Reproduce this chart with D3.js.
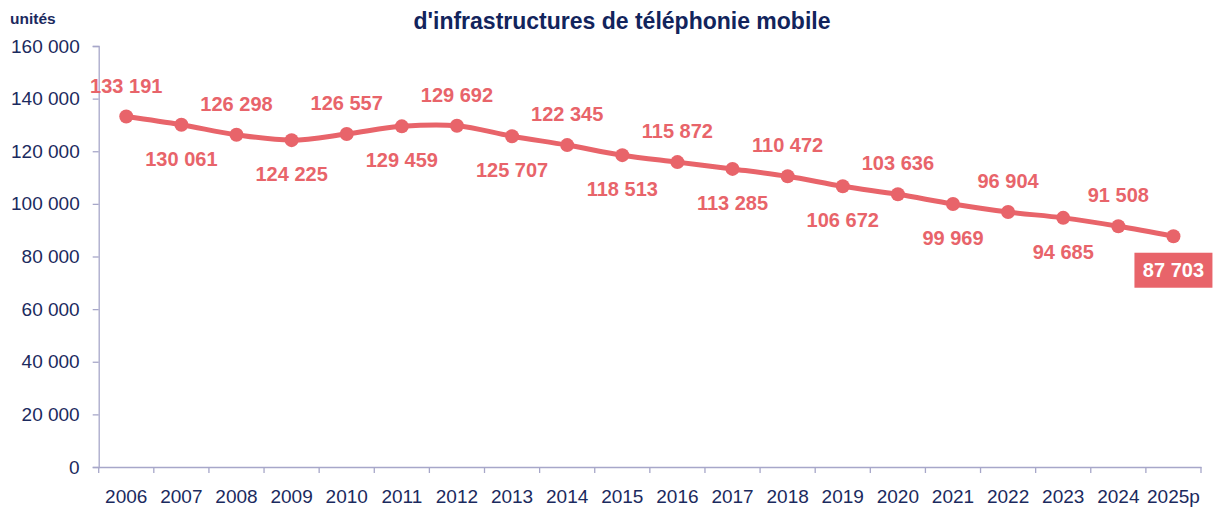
<!DOCTYPE html>
<html><head><meta charset="utf-8">
<script src="https://cdn.jsdelivr.net/npm/d3@7"></script>
<style>body{margin:0;background:#fff}svg{display:block}</style>
</head><body>
<svg id="c" width="1215" height="512"></svg>
<script>
const years = ["2006","2007","2008","2009","2010","2011","2012","2013","2014","2015","2016","2017","2018","2019","2020","2021","2022","2023","2024","2025p"];
const values = [133191,130061,126298,124225,126557,129459,129692,125707,122345,118513,115872,113285,110472,106672,103636,99969,96904,94685,91508,87703];
const labelSide = ["above","below","above","below","above","below","above","below","above","below","above","below","above","below","above","below","above","below","above","box"];
const yTicks = [0,20000,40000,60000,80000,100000,120000,140000,160000];
const titleText = "d'infrastructures de téléphonie mobile";
const unitText = "unités";

const coral = "#E8646A", navy = "#1B2A5E", axisCol = "#A7A7C9";
const svg = d3.select("#c");
const x = d3.scaleBand().domain(years).range([98.7, 1201]);
const y = d3.scaleLinear().domain([0,160000]).range([467,46]);
const fmt = v => d3.format(",")(v).replace(/,/g, " ");
const font = "'Liberation Sans', Arial, sans-serif";

// title & unit
svg.append("text").attr("x",622).attr("y",29).attr("text-anchor","middle")
  .attr("font-family",font).attr("font-weight","bold").attr("font-size",23).attr("fill","#12245C").text(titleText);
svg.append("text").attr("x",10).attr("y",24)
  .attr("font-family",font).attr("font-weight","bold").attr("font-size",15.5).attr("fill",navy).text(unitText);

// y axis
const ya = svg.append("g").attr("transform","translate(98.7,0)")
  .call(d3.axisLeft(y).tickValues(yTicks).tickSize(6).tickPadding(13).tickFormat(fmt));
ya.select(".domain").attr("stroke",axisCol).attr("stroke-width",1.3);
ya.selectAll(".tick line").attr("stroke",axisCol).attr("stroke-width",1.3);
ya.selectAll("text").attr("font-family",font).attr("font-size",19).attr("fill",navy);

// x axis
const xa = svg.append("g").attr("transform","translate(0,467)")
  .call(d3.axisBottom(x).tickSize(0).tickPadding(23).tickSizeOuter(0));
xa.select(".domain").attr("stroke",axisCol).attr("stroke-width",1.3);
xa.selectAll("text").attr("font-family",font).attr("font-size",19).attr("fill",navy);
const bounds = years.map(d => x(d)).concat([x(years[years.length-1]) + x.bandwidth()]);
xa.selectAll("line.bt").data(bounds).enter().append("line").attr("class","bt")
  .attr("x1",d=>d).attr("x2",d=>d).attr("y1",0).attr("y2",6)
  .attr("stroke",axisCol).attr("stroke-width",1.3);

// line
const pts = years.map((d,i)=>({yr:d, v:values[i], side:labelSide[i]}));
const cx = d => x(d.yr) + x.bandwidth()/2;
const line = d3.line().x(cx).y(d=>y(d.v)).curve(d3.curveCatmullRom.alpha(0));
svg.append("path").datum(pts).attr("d",line).attr("fill","none")
  .attr("stroke",coral).attr("stroke-width",5).attr("stroke-linejoin","round");
svg.selectAll("circle.pt").data(pts).enter().append("circle").attr("class","pt")
  .attr("cx",cx).attr("cy",d=>y(d.v)).attr("r",7).attr("fill",coral);

// labels
const lab = pts.filter(d=>d.side!=="box");
svg.selectAll("text.lbl").data(lab).enter().append("text").attr("class","lbl")
  .attr("x",cx).attr("y",d=>y(d.v) + (d.side==="above" ? -31 : 34))
  .attr("dy","0.35em").attr("text-anchor","middle")
  .attr("font-family",font).attr("font-weight","bold").attr("font-size",20).attr("fill",coral)
  .text(d=>fmt(d.v));
const boxed = pts.filter(d=>d.side==="box");
const bg = svg.selectAll("g.box").data(boxed).enter().append("g").attr("class","box")
  .attr("transform",d=>`translate(${cx(d)},${y(d.v)+34})`);
bg.append("rect").attr("x",-39).attr("y",-17.5).attr("width",78).attr("height",35).attr("fill",coral);
bg.append("text").attr("dy","0.35em").attr("text-anchor","middle")
  .attr("font-family",font).attr("font-weight","bold").attr("font-size",20).attr("fill","#fff")
  .text(d=>fmt(d.v));
</script>
</body></html>
